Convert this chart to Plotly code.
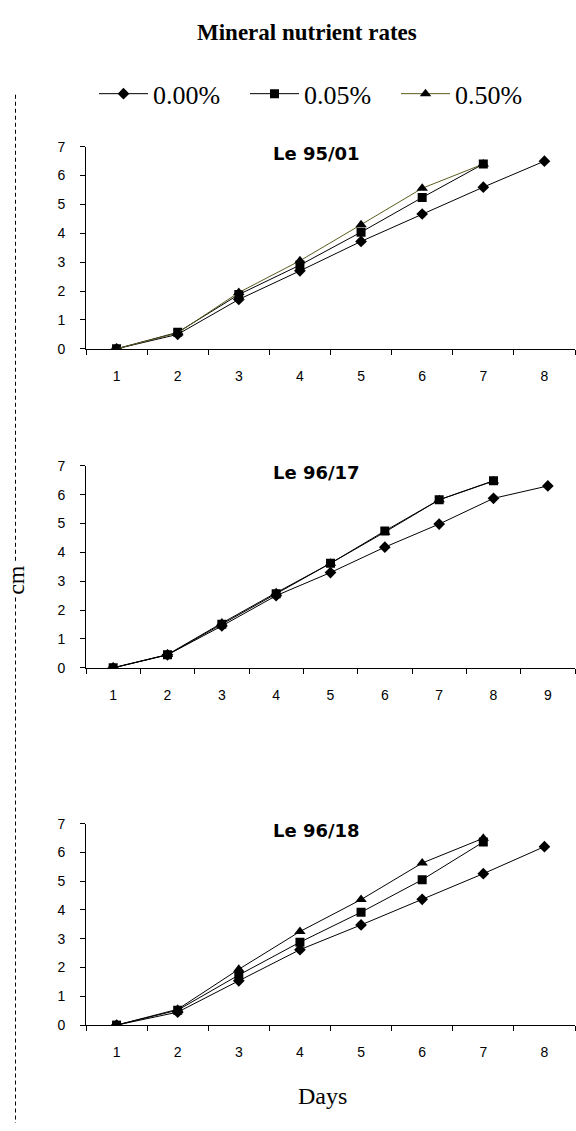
import plotly.graph_objects as go

# ---------------- data ----------------
days_a = ["1", "2", "3", "4", "5", "6", "7", "8"]
days_b = ["1", "2", "3", "4", "5", "6", "7", "8", "9"]

series_names = ["0.00%", "0.05%", "0.50%"]
panel_titles = ["Le 95/01", "Le 96/17", "Le 96/18"]

# Le 95/01
p1_000 = [0, 0.50, 1.71, 2.70, 3.72, 4.67, 5.60, 6.50]
p1_005 = [0, 0.57, 1.88, 2.90, 4.04, 5.24, 6.40]
p1_050 = [0, 0.55, 1.95, 3.05, 4.30, 5.56, 6.40]

# Le 96/17
p2_000 = [0, 0.45, 1.45, 2.50, 3.30, 4.18, 4.98, 5.87, 6.30]
p2_005 = [0, 0.45, 1.51, 2.57, 3.62, 4.74, 5.82, 6.48]
p2_050 = [0, 0.46, 1.55, 2.60, 3.62, 4.70, 5.82, 6.47]

# Le 96/18
p3_000 = [0, 0.45, 1.54, 2.62, 3.48, 4.37, 5.26, 6.20]
p3_005 = [0, 0.52, 1.74, 2.88, 3.92, 5.05, 6.36]
p3_050 = [0, 0.55, 1.94, 3.25, 4.36, 5.63, 6.49]

y_ticks = [0, 1, 2, 3, 4, 5, 6, 7]

# ---------------- figure ----------------
W, H = 576, 1131
L, R = 86, 1
PW = W - L - R
symbols = ["diamond", "square", "triangle-up"]
msize = [9, 9, 10]

panels = [
    (days_a, [p1_000, p1_005, p1_050], ["black", "black", "#5c5c1f"]),
    (days_b, [p2_000, p2_005, p2_050], ["black", "black", "black"]),
    (days_a, [p3_000, p3_005, p3_050], ["black", "black", "black"]),
]

# plot areas in pixels (top, bottom)
py = [(140.7, 345.7), (464.3, 669.3), (827.3, 1031.7)]

fig = go.Figure()
for i, (cats, vals, lcols) in enumerate(panels):
    ax = "" if i == 0 else str(i + 1)
    for j, v in enumerate(vals):
        fig.add_trace(go.Scatter(
            x=cats[:len(v)], y=v, mode="lines+markers",
            name=series_names[j], legendgroup=series_names[j],
            showlegend=(i == 0),
            line=dict(color=lcols[j], width=1),
            marker=dict(symbol=symbols[j], size=msize[j], color="black",
                        line=dict(width=0)),
            xaxis="x" + ax, yaxis="y" + ax,
        ))

serif = "Liberation Serif, Times New Roman, serif"
sans = "Liberation Sans, Arial, sans-serif"

layout = dict(
    width=W, height=H,
    margin=dict(l=L, r=R, t=0, b=0),
    paper_bgcolor="white", plot_bgcolor="white",
    showlegend=True,
    legend=dict(orientation="h", x=(94 - L) / PW, xanchor="left",
                y=1 - 87 / H, yanchor="middle",
                font=dict(family=serif, size=26, color="black"),
                bgcolor="rgba(0,0,0,0)", itemwidth=49,
                entrywidth=87, entrywidthmode="pixels",
                tracegroupgap=0),
)

tickfont = dict(family=sans, size=14, color="black")
annotations = []
for i, (cats, vals, lcols) in enumerate(panels):
    ax = "" if i == 0 else str(i + 1)
    top, bot = py[i]
    layout["xaxis" + ax] = dict(
        domain=[0, 1], anchor="y" + ax, type="category",
        categoryorder="array", categoryarray=cats,
        range=[-0.5, len(cats) - 0.5],
        tickson="boundaries", ticks="outside", ticklen=5, tickcolor="black",
        showline=True, linecolor="black", linewidth=1, showgrid=False,
        zeroline=False, tickfont=tickfont, ticklabelstandoff=14,
        fixedrange=True,
    )
    layout["yaxis" + ax] = dict(
        domain=[1 - bot / H, 1 - top / H], anchor="x" + ax,
        range=[0, 7], tickvals=y_ticks, ticks="outside", ticklen=5,
        tickcolor="black", showline=True, linecolor="black", linewidth=1,
        showgrid=False, zeroline=False, tickfont=tickfont,
        ticklabelstandoff=12, fixedrange=True,
    )
    annotations.append(dict(
        text="<b>" + panel_titles[i] + "</b>", xref="x" + ax + " domain",
        yref="paper", x=(316 - L) / PW, y=1 - (top + 7) / H,
        xanchor="center", yanchor="middle", showarrow=False,
        font=dict(family="DejaVu Sans, sans-serif", size=18, color="black"),
    ))

annotations.append(dict(
    text="<b>Mineral nutrient rates</b>", xref="paper", yref="paper",
    x=(307 - L) / PW, y=1 - 25 / H, xanchor="center", yanchor="middle",
    showarrow=False, font=dict(family=serif, size=23, color="black"),
))
annotations.append(dict(
    text="Days", xref="paper", yref="paper",
    x=(322 - L) / PW, y=1 - 1104 / H, xanchor="center", yanchor="middle",
    showarrow=False, font=dict(family=serif, size=24, color="black"),
))
annotations.append(dict(
    text="cm", xref="paper", yref="paper", textangle=-90,
    x=(16 - L) / PW, y=1 - 580 / H, xanchor="center", yanchor="middle",
    showarrow=False, font=dict(family=serif, size=24, color="black"),
))
layout["annotations"] = annotations

dash_x = (15.5 - L) / PW
layout["shapes"] = [
    dict(type="line", xref="paper", yref="paper", x0=dash_x, x1=dash_x,
         y0=1 - 88 / H, y1=1 - 562 / H,
         line=dict(color="black", width=1, dash="4px,3px")),
    dict(type="line", xref="paper", yref="paper", x0=dash_x, x1=dash_x,
         y0=1 - 598 / H, y1=0,
         line=dict(color="black", width=1, dash="4px,3px")),
]

fig.update_layout(**layout)
fig.write_html(
    "out.html", config={"displayModeBar": False},
    post_script=(
        "document.documentElement.style.margin='0';"
        "document.documentElement.style.overflow='hidden';"
        "document.body.style.margin='0';"
        "document.body.style.padding='0';"
        "document.body.style.overflow='hidden';"
    ),
)
